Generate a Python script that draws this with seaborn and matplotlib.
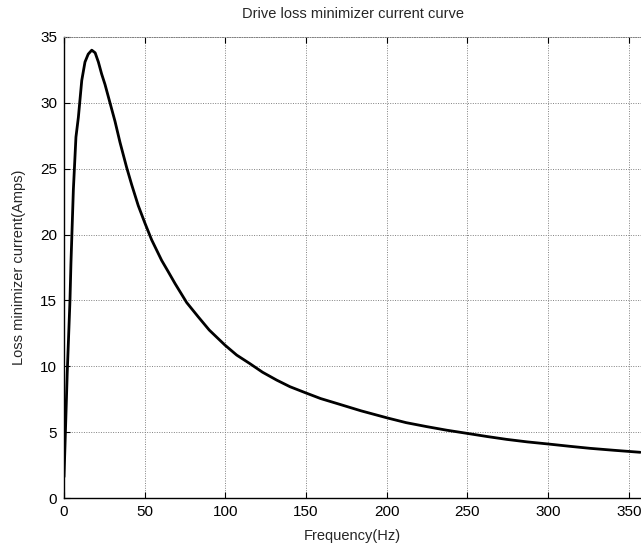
import matplotlib
matplotlib.use("Agg")
import matplotlib.pyplot as plt
import seaborn as sns
import pandas as pd

freq = [0, 0.6, 2.0, 3.7, 4.3, 5.8, 7.4, 8.9, 11.0, 13.0, 15.0, 17.2, 19.3, 21.3, 23.3,
        25.4, 28.5, 31.6, 34.7, 38.8, 41.9, 46.0, 50.2, 54.3, 60.5, 64.5, 68.8, 76.0,
        83.2, 90.0, 99.8, 107.0, 115.2, 123.0, 131.8, 140.0, 149.8, 159.0, 169.0,
        184.0, 200.3, 212.0, 224.7, 237.0, 250.1, 262.0, 274.3, 287.0, 300.0, 313.0,
        326.0, 341.0, 357.0]
current = [1.6, 3.9, 9.5, 15.0, 17.8, 23.4, 27.4, 28.9, 31.7, 33.1, 33.7, 34.0, 33.8, 33.1, 32.2,
           31.4, 30.0, 28.6, 27.0, 25.1, 23.8, 22.2, 20.85, 19.6, 18.04, 17.2, 16.28, 14.84,
           13.75, 12.75, 11.6, 10.85, 10.2, 9.55, 8.95, 8.45, 7.98, 7.55, 7.18,
           6.62, 6.08, 5.72, 5.42, 5.15, 4.9, 4.67, 4.45, 4.26, 4.1, 3.93,
           3.77, 3.62, 3.47]
xticks = [0, 50, 100, 150, 200, 250, 300, 350]
yticks = [0, 5, 10, 15, 20, 25, 30, 35]

df = pd.DataFrame({"Frequency(Hz)": freq, "Current": current})

sns.set_style("white")
plt.rcParams['font.family'] = ['Liberation Sans', 'DejaVu Sans']

fig = plt.figure(figsize=(6.41, 5.45), dpi=100)
W, H = 641, 545
ax = fig.add_axes([64 / W, (H - 498) / H, (641 - 64) / W, (498 - 37) / H])

sns.lineplot(data=df, x="Frequency(Hz)", y="Current", color="black", linewidth=2.0,
             ax=ax, sort=False)

ax.set_xlim(0, 357.5)
ax.set_ylim(0, 35)
ax.set_xticks(xticks)
ax.set_yticks(yticks)
ax.grid(True, color="#808080", linestyle=(0, (1, 1.5)), linewidth=0.7)
ax.set_axisbelow(True)

for s in ["left", "bottom"]:
    ax.spines[s].set_color("black")
    ax.spines[s].set_linewidth(1.0)
ax.spines["right"].set_visible(False)
ax.spines["top"].set_color("#808080")
ax.spines["top"].set_linestyle((0, (1, 1.5)))
ax.spines["top"].set_linewidth(0.7)

ax.tick_params(direction="in", length=4, width=0.8, top=True, left=True, bottom=True,
               labelsize=11, colors="black", pad=5)

ax.set_xlabel("Frequency(Hz)", fontsize=10.5, labelpad=7)
ax.set_ylabel("Loss minimizer current(Amps)", fontsize=10.5, labelpad=10)
ax.set_title("Drive loss minimizer current curve", fontsize=10.5, pad=14)

fig.savefig("out.png", dpi=100)
